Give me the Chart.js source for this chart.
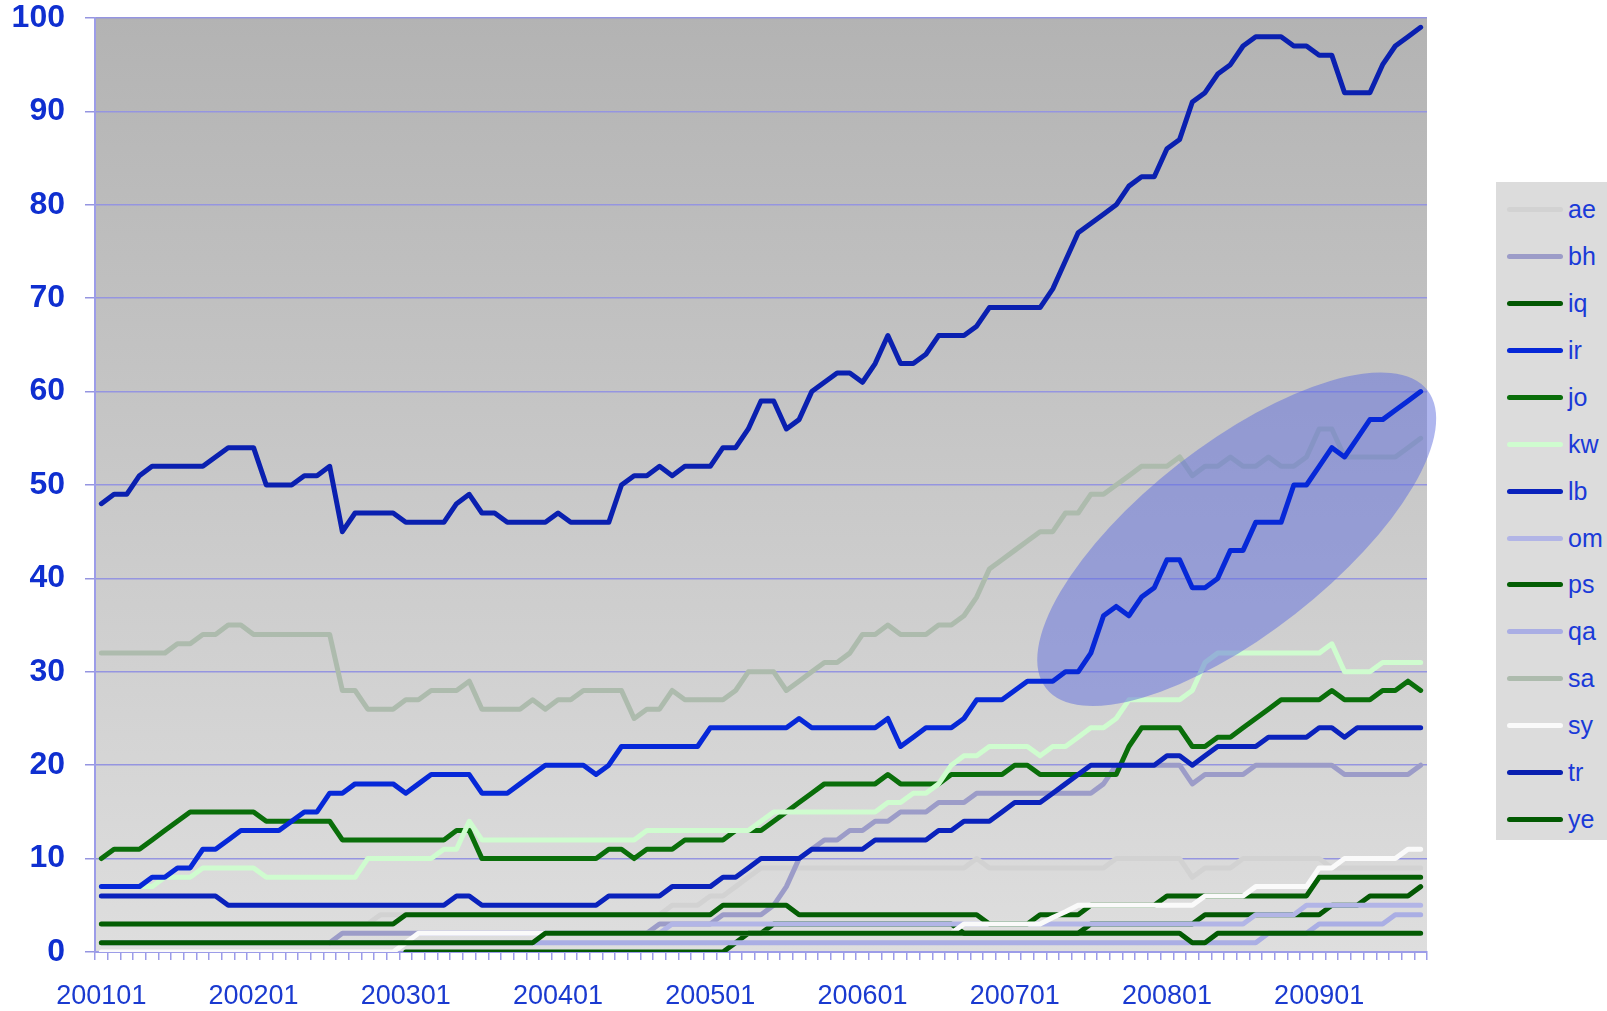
<!DOCTYPE html>
<html>
<head>
<meta charset="utf-8">
<script src="https://cdn.jsdelivr.net/npm/chart.js@4.4.1/dist/chart.umd.min.js"></script>
<style>
  body { margin: 0; background: #fff; }
  #wrap { position: relative; width: 1607px; height: 1011px; }
  #legend {
    position: absolute; left: 1496px; top: 182px; width: 111px; height: 658px;
    background: #dcdcdc; box-sizing: border-box; padding-top: 4px;
    font-family: "Liberation Sans", Arial, sans-serif;
  }
  .item { display: flex; align-items: center; height: 46.95px; }
  .swatch { width: 56px; height: 5px; margin-left: 11px; border-radius: 3px; }
  .name { margin-left: 5px; font-size: 25px; color: #1a3ad8; }
</style>
</head>
<body>
<div id="wrap">
  <canvas id="chart" width="1607" height="1011"></canvas>
  <div id="legend"></div>
</div>
<script>
const N = null;

// monthly categories 200101 .. 200909, label shown every january
const years = ["2001", "2002", "2003", "2004", "2005", "2006", "2007", "2008", "2009"];
const tickLabels = ["200101", "200201", "200301", "200401", "200501", "200601", "200701", "200801", "200901"];
const months = [];
years.forEach((y) => {
  for (let m = 1; m <= 12; m++) months.push(y + (m < 10 ? "0" : "") + m);
});
months.length = 105;

const names = ["ae", "bh", "iq", "ir", "jo", "kw", "lb", "om", "ps", "qa", "sa", "sy", "tr", "ye"];
const colors = ["#d2d2d2", "#9c9cc8", "#035803", "#0628d8", "#0a6e0a", "#cffccf", "#0a22bc",
                "#b2b5e6", "#045e04", "#aaaee4", "#adbbad", "#fafafa", "#0a20b0", "#035a03"];

const ae = [3,3,3,3,3,3,3,3,3,3, 3,3,3,3,3,3,3,3,3,3, 3,3,4,4,4,4,4,4,4,4, 4,4,4,4,4,4,4,4,4,4,
            4,4,4,4,4,5,5,5,6,6, 7,8,9,9,9,9,9,9,9,9, 9,9,9,9,9,9,9,9,9,10, 9,9,9,9,9,9,9,9,9,9,
            10,10,10,10,10,10,8,9,9,9, 10,10,10,10,10,10,10,9,9,9, 9,9,9,9,9];
const bh = [N,N,N,N,N,N,N,N,N,N, N,N,N,N,N,N,N,N,1,2, 2,2,2,2,2,2,2,2,2,2, 2,2,2,2,2,2,2,2,2,2,
            2,2,2,2,3,3,3,3,3,4, 4,4,4,5,7,10,11,12,12,13, 13,14,14,15,15,15,16,16,16,17, 17,17,17,17,17,17,17,17,17,18,
            20,20,20,20,20,20,18,19,19,19, 19,20,20,20,20,20,20,20,19,19, 19,19,19,19,20];
const iq = [N,N,N,N,N,N,N,N,N,N, N,N,N,N,N,N,N,N,N,N, N,N,N,N,0,0,0,0,0,0, 0,0,0,0,0,0,0,0,0,0,
            0,0,0,0,0,0,0,0,0,0, 1,2,2,3,3,3,3,3,3,3, 3,3,3,3,3,3,3,3,2,2, 2,2,2,2,2,2,2,2,3,3,
            3,3,3,3,3,3,3,4,4,4, 4,4,4,4,4,4,4,5,5,5, 6,6,6,6,7];
const ir = [7,7,7,7,8,8,9,9,11,11, 12,13,13,13,13,14,15,15,17,17, 18,18,18,18,17,18,19,19,19,19, 17,17,17,18,19,20,20,20,20,19,
            20,22,22,22,22,22,22,22,24,24, 24,24,24,24,24,25,24,24,24,24, 24,24,25,22,23,24,24,24,25,27, 27,27,28,29,29,29,30,30,32,36,
            37,36,38,39,42,42,39,39,40,43, 43,46,46,46,50,50,52,54,53,55, 57,57,58,59,60];
const jo = [10,11,11,11,12,13,14,15,15,15, 15,15,15,14,14,14,14,14,14,12, 12,12,12,12,12,12,12,12,13,13, 10,10,10,10,10,10,10,10,10,10,
            11,11,10,11,11,11,12,12,12,12, 13,13,13,14,15,16,17,18,18,18, 18,18,19,18,18,18,18,19,19,19, 19,19,20,20,19,19,19,19,19,19,
            19,22,24,24,24,24,22,22,23,23, 24,25,26,27,27,27,27,28,27,27, 27,28,28,29,28];
const kw = [7,7,7,7,7,8,8,8,9,9, 9,9,9,8,8,8,8,8,8,8, 8,10,10,10,10,10,10,11,11,14, 12,12,12,12,12,12,12,12,12,12,
            12,12,12,13,13,13,13,13,13,13, 13,13,14,15,15,15,15,15,15,15, 15,15,16,16,17,17,18,20,21,21, 22,22,22,22,21,22,22,23,24,24,
            25,27,27,27,27,27,28,31,32,32, 32,32,32,32,32,32,32,33,30,30, 30,31,31,31,31];
const lb = [6,6,6,6,6,6,6,6,6,6, 5,5,5,5,5,5,5,5,5,5, 5,5,5,5,5,5,5,5,6,6, 5,5,5,5,5,5,5,5,5,5,
            6,6,6,6,6,7,7,7,7,8, 8,9,10,10,10,10,11,11,11,11, 11,12,12,12,12,12,13,13,14,14, 14,15,16,16,16,17,18,19,20,20,
            20,20,20,20,21,21,20,21,22,22, 22,22,23,23,23,23,24,24,23,24, 24,24,24,24,24];
const om = [N,N,N,N,N,N,N,N,N,N, N,N,N,N,N,N,N,N,N,N, N,N,N,N,N,2,2,2,2,2, 2,2,2,2,2,2,2,2,2,2,
            2,2,2,2,2,3,3,3,3,3, 3,3,3,3,3,3,3,3,3,3, 3,3,3,3,3,3,3,3,3,3, 3,3,3,3,3,3,3,3,3,3,
            3,3,3,3,3,3,3,3,3,3, 3,4,4,4,4,5,5,5,5,5, 5,5,5,5,5];
const ps = [3,3,3,3,3,3,3,3,3,3, 3,3,3,3,3,3,3,3,3,3, 3,3,3,3,4,4,4,4,4,4, 4,4,4,4,4,4,4,4,4,4,
            4,4,4,4,4,4,4,4,4,5, 5,5,5,5,5,4,4,4,4,4, 4,4,4,4,4,4,4,4,4,4, 3,3,3,3,4,4,4,4,5,5,
            5,5,5,5,6,6,6,6,6,6, 6,6,6,6,6,6,8,8,8,8, 8,8,8,8,8];
const qa = [1,1,1,1,1,1,1,1,1,1, 1,1,1,1,1,1,1,1,1,1, 1,1,1,1,1,1,1,1,1,1, 1,1,1,1,1,1,1,1,1,1,
            1,1,1,1,1,1,1,1,1,1, 1,1,1,1,1,1,1,1,1,1, 1,1,1,1,1,1,1,1,1,1, 1,1,1,1,1,1,1,1,1,1,
            1,1,1,1,1,1,1,1,1,1, 1,1,2,2,2,2,3,3,3,3, 3,3,4,4,4];
const sa = [32,32,32,32,32,32,33,33,34,34, 35,35,34,34,34,34,34,34,34,28, 28,26,26,26,27,27,28,28,28,29, 26,26,26,26,27,26,27,27,28,28,
            28,28,25,26,26,28,27,27,27,27, 28,30,30,30,28,29,30,31,31,32, 34,34,35,34,34,34,35,35,36,38, 41,42,43,44,45,45,47,47,49,49,
            50,51,52,52,52,53,51,52,52,53, 52,52,53,52,52,53,56,56,53,53, 53,53,53,54,55];
const sy = [0,0,0,0,0,0,0,0,0,0, 0,0,0,0,0,0,0,0,0,0, 0,0,0,0,1,2,2,2,2,2, 2,2,2,2,2,2,2,2,2,2,
            2,2,2,2,2,2,2,2,2,2, 2,2,2,2,2,2,2,2,2,2, 2,2,2,2,2,2,2,2,3,3, 3,3,3,3,3,3.7,4.3,5,5,5,
            5,5,5,5,5,5,5,6,6,6, 6,7,7,7,7,7,9,9,10,10, 10,10,10,11,11];
const tr = [48,49,49,51,52,52,52,52,52,53, 54,54,54,50,50,50,51,51,52,45, 47,47,47,47,46,46,46,46,48,49, 47,47,46,46,46,46,47,46,46,46,
            46,50,51,51,52,51,52,52,52,54, 54,56,59,59,56,57,60,61,62,62, 61,63,66,63,63,64,66,66,66,67, 69,69,69,69,69,71,74,77,78,79,
            80,82,83,83,86,87,91,92,94,95, 97,98,98,98,97,97,96,96,92,92, 92,95,97,98,99];
const ye = [1,1,1,1,1,1,1,1,1,1, 1,1,1,1,1,1,1,1,1,1, 1,1,1,1,1,1,1,1,1,1, 1,1,1,1,1,2,2,2,2,2,
            2,2,2,2,2,2,2,2,2,2, 2,2,2,2,2,2,2,2,2,2, 2,2,2,2,2,2,2,2,2,2, 2,2,2,2,2,2,2,2,2,2,
            2,2,2,2,2,2,1,1,2,2, 2,2,2,2,2,2,2,2,2,2, 2,2,2,2,2];

const series = [ae, bh, iq, ir, jo, kw, lb, om, ps, qa, sa, sy, tr, ye];

// the highlighted area (position in category index / value units)
const mark = { x: 89.5, y: 44.2, rx: 242, ry: 95, angle: -38 };

const backdrop = {
  id: "backdrop",
  beforeDraw(chart) {
    const { ctx, chartArea: a } = chart;
    const g = ctx.createLinearGradient(0, a.top, 0, a.bottom);
    g.addColorStop(0, "#b3b3b3");
    g.addColorStop(1, "#dedede");
    ctx.save();
    ctx.fillStyle = g;
    ctx.fillRect(a.left, a.top, a.right - a.left, a.bottom - a.top);
    ctx.restore();
  },
  beforeDatasetDraw(chart, args) {
    if (args.index !== names.indexOf("ir")) return;
    const ctx = chart.ctx;
    const cx = chart.scales.x.getPixelForValue(mark.x);
    const cy = chart.scales.y.getPixelForValue(mark.y);
    ctx.save();
    ctx.beginPath();
    ctx.ellipse(cx, cy, mark.rx, mark.ry, (mark.angle * Math.PI) / 180, 0, Math.PI * 2);
    ctx.fillStyle = "rgba(95, 110, 222, 0.5)";
    ctx.fill();
    ctx.restore();
  },
};

const datasets = names.map((name, k) => ({
  label: name,
  data: series[k],
  borderColor: colors[k],
  backgroundColor: colors[k],
  borderWidth: 5,
  pointRadius: 0,
  tension: 0,
  borderJoinStyle: "round",
  borderCapStyle: "round",
  fill: false,
  // later series on top, ir drawn over the highlight
  order: name === "ir" ? 0 : names.length - k,
}));

const ctx = document.getElementById("chart").getContext("2d");
const chart = new Chart(ctx, {
  type: "line",
  data: { labels: months, datasets: datasets },
  options: {
    responsive: false,
    animation: false,
    events: [],
    layout: { padding: { top: 18, right: 180, left: 0, bottom: 0 } },
    plugins: { legend: { display: false }, tooltip: { enabled: false } },
    scales: {
      x: {
        offset: true,
        afterFit(scale) { scale.height = 59; },
        grid: { offset: true, drawOnChartArea: false, tickLength: 8, color: "#9c9ce8", lineWidth: 1.5 },
        border: { color: "#9c9ce8", width: 2 },
        ticks: {
          autoSkip: false,
          maxRotation: 0,
          padding: 20,
          color: "#1a3ad0",
          font: { family: "'Liberation Sans', Arial, sans-serif", size: 27 },
          callback: (v, i) => (tickLabels.includes(months[i]) ? months[i] : ""),
        },
      },
      y: {
        min: 0,
        max: 100,
        afterFit(scale) {
          scale.width = 95;
          scale.paddingTop = 0;
          scale.paddingBottom = 0;
        },
        grid: { color: "#9595e0", lineWidth: 1.5, tickLength: 10 },
        border: { color: "#9c9ce8", width: 2 },
        ticks: {
          stepSize: 10,
          padding: 20,
          color: "#0f2fd0",
          font: { family: "'Liberation Sans', Arial, sans-serif", size: 32, weight: "bold" },
        },
      },
    },
  },
  plugins: [backdrop],
});

// legend box on the right
const legend = document.getElementById("legend");
names.forEach((name, k) => {
  const item = document.createElement("div");
  item.className = "item";
  item.innerHTML = '<span class="swatch" style="background:' + colors[k] + '"></span><span class="name">' + name + "</span>";
  legend.appendChild(item);
});
</script>
</body>
</html>
